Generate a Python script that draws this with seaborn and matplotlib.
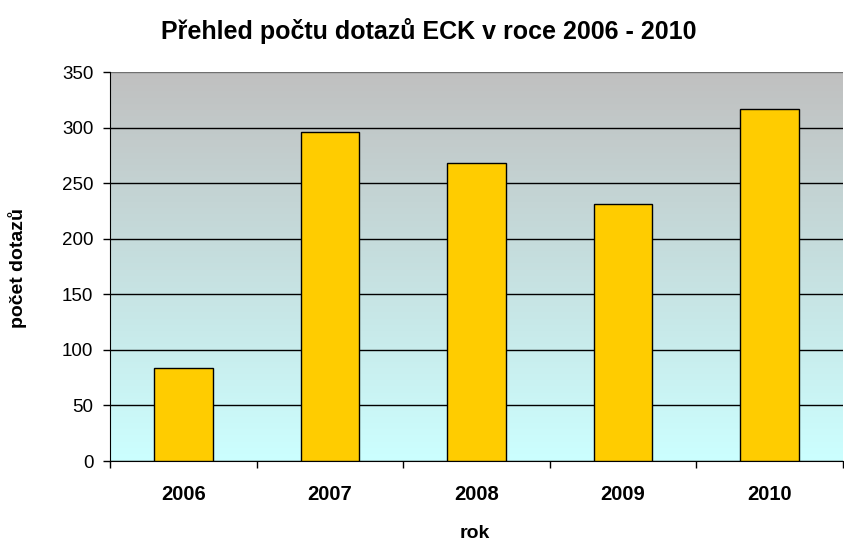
import numpy as np
import pandas as pd
import seaborn as sns
from matplotlib import pyplot as plt
from matplotlib.colors import LinearSegmentedColormap

# data
years = ["2006", "2007", "2008", "2009", "2010"]
dotazy = [84, 296, 268, 231, 317]

df = pd.DataFrame({"rok": years, "pocet": dotazy})

sns.set_style("white")
plt.rcParams["font.family"] = ["Liberation Sans", "DejaVu Sans"]
plt.rcParams["text.color"] = "black"
plt.rcParams["axes.labelcolor"] = "black"
plt.rcParams["xtick.color"] = "black"
plt.rcParams["ytick.color"] = "black"

fig = plt.figure(figsize=(8.45, 5.43), dpi=100)
ax = fig.add_axes([110 / 845, 82 / 543, 733 / 845, 389 / 543])

# gradient background: grey at the top, pale cyan at the bottom
grad = LinearSegmentedColormap.from_list("bg", ["#CCFFFF", "#C0C0C0"])
ax.imshow(np.linspace(0, 1, 256).reshape(-1, 1), cmap=grad, origin="lower",
          extent=[0, 1, 0, 1], transform=ax.transAxes, aspect="auto", zorder=0)

sns.barplot(data=df, x="rok", y="pocet", color="#FFCC00", width=0.4,
            edgecolor="black", linewidth=1, saturation=1, ax=ax, zorder=3)

ax.set_ylim(0, 350)
ax.set_xlim(-0.5, 4.5)
ax.set_yticks(range(0, 351, 50))
ax.yaxis.grid(True, color="black", linewidth=1)
ax.set_axisbelow(True)
for g in ax.get_ygridlines():
    g.set_zorder(1)
ax.get_ygridlines()[-1].set_color("#707070")

ax.set_xticks(range(5))
ax.set_xticklabels(years, fontweight="bold", fontsize=14.5)
ax.set_xticks(np.arange(-0.5, 5, 1), minor=True)
ax.tick_params(axis="x", which="major", length=0, pad=17)
ax.tick_params(axis="x", which="minor", length=5, width=1, direction="out")
ax.tick_params(axis="y", length=5, width=1, direction="out", labelsize=13.5, pad=7)
ax.yaxis.set_ticks_position("left")
ax.xaxis.set_ticks_position("bottom")

for side in ["top", "right"]:
    ax.spines[side].set_visible(False)
ax.spines["left"].set_color("black")
ax.spines["bottom"].set_color("black")

ax.set_xlabel("rok", fontweight="bold", fontsize=14)
ax.set_ylabel("počet dotazů", fontweight="bold", fontsize=14)
ax.xaxis.set_label_coords(475 / 733 - 110 / 733, (461 - 525) / 389)
ax.yaxis.set_label_coords((27 - 110) / 733, (461 - 268) / 389)
fig.suptitle("Přehled počtu dotazů ECK v roce 2006 - 2010", fontweight="bold",
             fontsize=18, x=429 / 845, y=1 - 31 / 543, va="center")

plt.savefig("out.png", dpi=100)
